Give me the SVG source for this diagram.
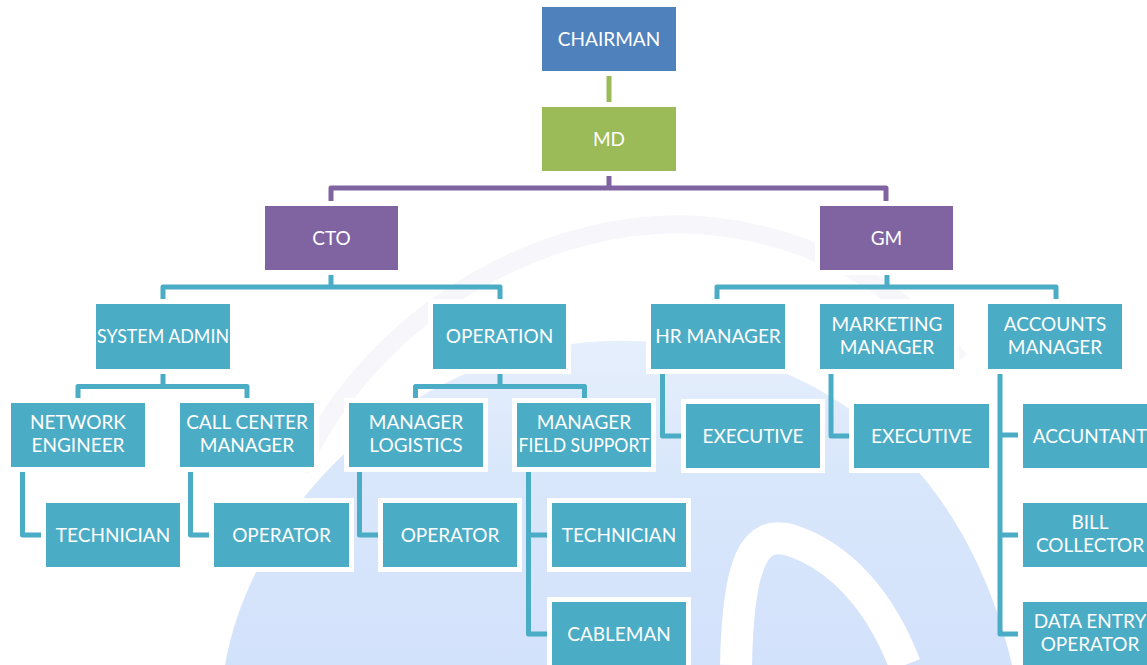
<svg xmlns="http://www.w3.org/2000/svg" width="1147" height="665" viewBox="0 0 1147 665">
<defs>
<linearGradient id="wm" x1="0" y1="0" x2="0" y2="1">
<stop offset="0" stop-color="#e6effc"/>
<stop offset="0.4" stop-color="#d9e7fb"/>
<stop offset="1" stop-color="#d3e2fb"/>
</linearGradient>
</defs>
<style>
.n rect{stroke:#ffffff;stroke-width:10;paint-order:stroke}
.b rect{fill:#4bacc6}
.p rect{fill:#8064a2}
text{font-family:"Lato","Liberation Sans",sans-serif;font-size:19px;fill:#ffffff;text-anchor:middle}
.c path{fill:none;stroke-width:5;stroke-linejoin:round;stroke-linecap:butt}
.cb path{stroke:#4bacc6}
.cp path{stroke:#8064a2}
.cg path{stroke:#9bbb59}
</style>
<rect width="1147" height="665" fill="#ffffff"/>
<g id="watermark">
<path d="M 300 470 C 380 300 560 215 700 225 C 820 235 900 290 960 360" fill="none" stroke="#f6f6fb" stroke-width="18"/>
<path d="M 225 665 C 250 520 390 360 590 342 C 790 328 960 440 1012 665 Z" fill="url(#wm)"/>
<path d="M 736 665 C 738 560 755 530 790 540 C 840 556 880 600 905 665" fill="none" stroke="#ffffff" stroke-width="32"/>
</g>
<g id="connectors" class="c">
<g class="cg"><path d="M 609 71 V 107"/></g>
<g class="cp"><path d="M 609 171 V 188"/><path d="M 331 206 V 188 H 886 V 206"/></g>
<g class="cb">
<path d="M 331 270 V 287"/><path d="M 163 304 V 287 H 500 V 304"/>
<path d="M 887 270 V 287"/><path d="M 717 304 V 287 H 1056 V 304"/>
<path d="M 163 369 V 386.5"/><path d="M 78 403 V 386.5 H 247 V 403"/>
<path d="M 500 369 V 386.5"/><path d="M 415.5 403 V 386.5 H 584.5 V 403"/>
<path d="M 662.5 369 V 436 H 686"/>
<path d="M 831 369 V 436 H 854"/>
<path d="M 1000 369 V 634 H 1023"/><path d="M 1000 435 H 1023"/><path d="M 1000 535 H 1023"/>
<path d="M 22.5 467 V 535 H 46"/>
<path d="M 190.5 467 V 535 H 214"/>
<path d="M 359.5 467 V 535 H 383"/>
<path d="M 528.5 467 V 634 H 552"/><path d="M 528.5 535 H 552"/>
</g>
</g>
<g id="chairman" class="n"><rect x="542" y="7" width="134" height="64" fill="#4f81bd"/><text x="609" y="46">CHAIRMAN</text></g>
<g id="md" class="n"><rect x="542" y="107" width="134" height="64" fill="#9bbb59"/><text x="609" y="146">MD</text></g>
<g id="cto" class="n p"><rect x="265" y="206" width="133" height="64"/><text x="331.5" y="245">CTO</text></g>
<g id="gm" class="n p"><rect x="820" y="206" width="133" height="64"/><text x="886.5" y="245">GM</text></g>
<g id="system-admin" class="n b"><rect x="96" y="304" width="134" height="65"/><text x="163" y="343" textLength="132" lengthAdjust="spacingAndGlyphs">SYSTEM ADMIN</text></g>
<g id="operation" class="n b"><rect x="433" y="304" width="133" height="65"/><text x="499.5" y="343">OPERATION</text></g>
<g id="hr-manager" class="n b"><rect x="651" y="304" width="134" height="65"/><text x="718" y="343">HR MANAGER</text></g>
<g id="marketing-manager" class="n b"><rect x="820" y="304" width="134" height="65"/><text x="887" y="331">MARKETING</text><text x="887" y="354">MANAGER</text></g>
<g id="accounts-manager" class="n b"><rect x="988" y="304" width="134" height="65"/><text x="1055" y="331">ACCOUNTS</text><text x="1055" y="354">MANAGER</text></g>
<g id="network-engineer" class="n b"><rect x="11" y="403" width="134" height="64"/><text x="78" y="429">NETWORK</text><text x="78" y="452">ENGINEER</text></g>
<g id="call-center-manager" class="n b"><rect x="180" y="403" width="134" height="64"/><text x="247" y="429">CALL CENTER</text><text x="247" y="452">MANAGER</text></g>
<g id="manager-logistics" class="n b"><rect x="349" y="403" width="134" height="64"/><text x="416" y="429">MANAGER</text><text x="416" y="452">LOGISTICS</text></g>
<g id="manager-field-support" class="n b"><rect x="517" y="403" width="134" height="64"/><text x="584" y="429">MANAGER</text><text x="584" y="452" textLength="131" lengthAdjust="spacingAndGlyphs">FIELD SUPPORT</text></g>
<g id="executive-hr" class="n b"><rect x="686" y="404" width="134" height="64"/><text x="753" y="443">EXECUTIVE</text></g>
<g id="executive-mkt" class="n b"><rect x="854" y="404" width="135" height="64"/><text x="921.5" y="443">EXECUTIVE</text></g>
<g id="accuntant" class="n b"><rect x="1023" y="404" width="134" height="64"/><text x="1090" y="443">ACCUNTANT</text></g>
<g id="technician-ne" class="n b"><rect x="46" y="503" width="134" height="64"/><text x="113" y="542">TECHNICIAN</text></g>
<g id="operator-ccm" class="n b"><rect x="214" y="503" width="135" height="64"/><text x="281.5" y="542">OPERATOR</text></g>
<g id="operator-ml" class="n b"><rect x="383" y="503" width="134" height="64"/><text x="450" y="542">OPERATOR</text></g>
<g id="technician-mfs" class="n b"><rect x="552" y="503" width="134" height="64"/><text x="619" y="542">TECHNICIAN</text></g>
<g id="bill-collector" class="n b"><rect x="1023" y="503" width="134" height="64"/><text x="1090" y="529">BILL</text><text x="1090" y="552">COLLECTOR</text></g>
<g id="cableman" class="n b"><rect x="552" y="602" width="134" height="64"/><text x="619" y="641">CABLEMAN</text></g>
<g id="data-entry-operator" class="n b"><rect x="1023" y="602" width="134" height="64"/><text x="1090" y="628">DATA ENTRY</text><text x="1090" y="651">OPERATOR</text></g>
</svg>
